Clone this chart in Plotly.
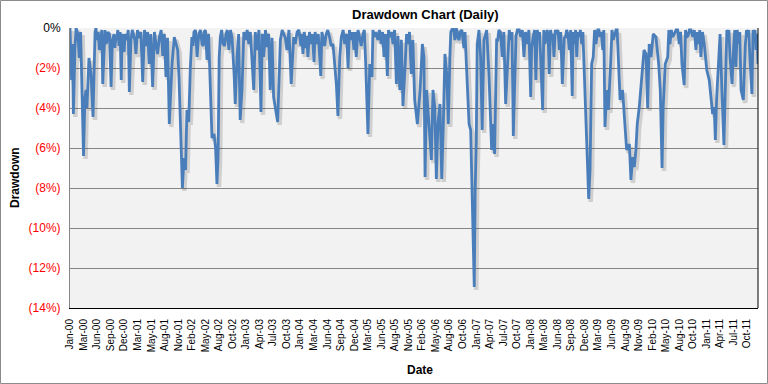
import plotly.graph_objects as go

# ---- data ----
# main readings: trading-day index and drawdown depth in percent
trading_day = [
    0, 7, 11, 15, 22, 27, 35, 41, 47, 53, 60, 66, 71, 75, 84, 93, 102, 111, 115, 120,
    130, 137, 145, 151, 159, 168, 182, 188, 195, 202, 208, 217, 227, 235, 244, 263, 270, 281, 292, 306,
    322, 337, 351, 366, 381, 396, 411, 425, 440, 452, 462, 477, 483, 492, 498, 505, 512, 518, 526, 533,
    540, 549, 563, 571, 585, 594, 607, 622, 629, 638, 645, 651, 656, 661, 666, 678, 691, 704, 718, 727,
    732, 740, 754, 762, 777, 792, 806, 814, 828, 846, 858, 873, 887, 902, 920, 932, 947, 961, 980, 991,
    1006, 1023, 1032, 1045, 1054, 1068, 1081, 1091, 1111, 1121, 1135, 1150, 1165, 1173, 1180, 1187, 1195, 1202, 1217, 1232,
    1244, 1258, 1268, 1283, 1298, 1310, 1320, 1328, 1338, 1347, 1364, 1379, 1391, 1406, 1416, 1431, 1446, 1461, 1475, 1485,
    1497, 1512, 1527, 1539, 1551, 1561, 1568, 1573, 1580, 1586, 1595, 1601, 1608, 1616, 1623, 1630, 1639, 1647, 1654, 1661,
    1669, 1676, 1683, 1691, 1701, 1710, 1719, 1728, 1745, 1756, 1768, 1775, 1782, 1787, 1791, 1795, 1800, 1804, 1812, 1819,
    1826, 1834, 1846, 1856, 1868, 1875, 1881, 1890, 1900, 1915, 1930, 1940, 1952, 1964, 1971, 1982, 1997, 2011, 2026, 2041,
    2045, 2052, 2064, 2075, 2085, 2094, 2104, 2114, 2123, 2134, 2144, 2156, 2168, 2181, 2190, 2200, 2212, 2225, 2234, 2245,
    2255, 2267, 2277, 2286, 2292, 2298, 2304, 2311, 2318, 2330, 2338, 2348, 2360, 2370, 2378, 2385, 2395, 2407, 2419, 2429,
    2437, 2448, 2459, 2466, 2478, 2485, 2493, 2500, 2507, 2513, 2522, 2533, 2543, 2552, 2559, 2566, 2574, 2584, 2596, 2608,
    2615, 2623, 2628, 2637, 2648, 2658, 2670, 2685, 2699, 2711, 2721, 2732, 2744, 2759, 2773, 2785, 2795, 2810, 2821, 2832,
    2840, 2847, 2854, 2859, 2865, 2874, 2880, 2888, 2897, 2906, 2914, 2924, 2933, 2940, 2950, 2962, 2973, 2983, 2992, 3002,
    3012, 3021, 3031, 3039, 3048,
]

drawdown_pct = [
    0, 2.6, 0.8, 4.3, 1.0, 0, 0.3, 1.5, 0.2, 2.5, 6.4, 3.5, 3.1, 4.0, 1.5, 2.3, 4.45, 0.2, 0, 0.6,
    1.1, 0.3, 2.8, 0.5, 0.8, 0.2, 2.95, 0.6, 0.3, 0.6, 0.4, 0.9, 2.6, 0.8, 0.3, 3.2, 0.6, 0.3, 1.3, 0.5,
    2.7, 0.9, 1.8, 2.95, 0.8, 0.45, 1.4, 2.45, 4.8, 1.8, 0.45, 1.1, 2.5, 5.5, 8.0, 6.5, 7.1, 4.1, 4.7, 2.0,
    0.45, 0.2, 1.45, 0.3, 0.8, 0.2, 1.6, 3.6, 5.5, 5.3, 6.0, 7.8, 6.5, 1.45, 0.45, 0.8, 0.3, 1.1, 0.5, 2.3,
    3.8, 1.45, 4.6, 3.1, 0.6, 0.8, 1.45, 3.1, 1.1, 4.2, 1.45, 0.95, 3.1, 3.45, 4.7, 0.6, 0.3, 1.1, 2.8, 0.45,
    0.2, 0.9, 1.3, 1.0, 1.45, 0.8, 1.7, 0.8, 2.4, 0.6, 0.3, 0.45, 0.8, 2.0, 2.8, 4.4, 1.45, 0.45, 0.8, 2.0,
    0.6, 1.1, 1.45, 0.45, 0.3, 1.8, 5.3, 1.8, 2.45, 0.45, 0.6, 0.8, 1.45, 2.4, 0.45, 0.8, 2.8, 3.1, 3.9, 1.8,
    0.8, 2.3, 3.6, 4.8, 3.1, 0.8, 1.45, 7.45, 3.1, 4.1, 6.1, 6.6, 3.1, 3.95, 7.55, 4.8, 3.8, 7.55, 4.8, 1.3,
    2.3, 4.8, 1.45, 0.1, 0.2, 0, 0.5, 0.2, 1.0, 1.8, 4.8, 5.1, 8.1, 11.45, 12.95, 8.1, 5.6, 0.8, 0.1, 1.45,
    5.1, 0.6, 0.1, 2.3, 6.1, 4.8, 6.3, 0.6, 0.1, 1.45, 3.8, 1.1, 0.6, 5.4, 1.45, 0.1, 0.45, 1.45, 0.8, 3.45,
    1.0, 0.45, 2.6, 0.45, 1.45, 4.1, 0.8, 0.1, 2.3, 0.45, 1.45, 0.3, 1.1, 2.8, 0.45, 0.1, 1.1, 3.4, 0.8, 1.45,
    0.45, 0.8, 1.8, 4.8, 6.8, 8.55, 7.1, 1.8, 1.45, 0.8, 0.1, 0.45, 1.1, 4.95, 3.1, 4.1, 1.8, 0.6, 0.1, 1.45,
    3.6, 3.1, 4.8, 6.1, 5.8, 7.6, 6.45, 6.95, 6.1, 4.8, 3.95, 2.3, 1.1, 1.3, 4.0, 0.8, 1.45, 0.3, 0.45, 1.8,
    3.1, 7.0, 3.95, 1.8, 1.45, 0.8, 0.45, 0.1, 0.8, 1.8, 2.85, 0.45, 0.1, 0.45, 1.1, 0.8, 1.45, 0.8, 2.1, 2.6,
    3.45, 4.3, 3.95, 5.6, 3.45, 1.45, 0.3, 3.1, 5.85, 1.8, 0.45, 1.45, 2.8, 0.95, 1.95, 0.8, 3.1, 3.6, 0.8, 0.45,
    1.45, 3.3, 0.45, 1.1, 1.8,
]

# finer readings of the dense band near the top (near-zero stretches)
band_day = [
    125, 141, 155, 163, 175, 199, 212, 222, 231, 240, 253, 258, 276, 287, 299, 314, 330, 344, 358, 374,
    388, 404, 418, 432,
    545, 556, 567, 578, 590, 600, 614,
    672, 685, 697, 711, 747, 770, 785, 799, 821, 837, 852, 866, 880, 895, 940, 954, 970, 998,
    1014, 1027, 1038, 1049, 1061, 1074, 1086, 1100, 1105, 1116, 1128, 1142, 1157, 1210, 1225, 1238, 1251, 1263, 1276, 1290,
    1304, 1342, 1355, 1371, 1385, 1398, 1411, 1424, 1438, 1453, 1468, 1491, 1504, 1519,
    1687, 1696, 1705, 1714, 1724, 1736, 1750,
    1895, 1907, 1922, 1946, 1958, 1976, 1990, 2004, 2018, 2033, 2058, 2070, 2080, 2099, 2109, 2118, 2129, 2139, 2150, 2162,
    2174, 2195, 2206, 2218, 2229, 2240, 2250, 2261, 2272,
    2324, 2334, 2343, 2354, 2365, 2401, 2413, 2424,
    2653, 2664, 2677, 2692, 2705, 2727, 2738, 2751, 2766, 2779, 2790, 2802,
    2910, 2919, 2945, 2956, 2967, 2997, 3007, 3026, 3035, 3044,
]

band_pct = [
    0.2, 0.1, 0.1, 0.7, 0.3, 1.0, 0.1, 0.2, 0.3, 1.2, 0.6, 0.1, 0.1, 0.6, 0.1, 0.2, 0.1, 0.2, 0.3, 0.2,
    1.3, 0.1, 0.3, 0.5,
    0.9, 0.1, 0.8, 0.1, 0.9, 0.1, 0.3,
    0.1, 0.9, 0.1, 0.1, 0.3, 0.2, 0.1, 0.2, 0.2, 0.1, 0.3, 0.1, 0.3, 0.5, 0.1, 0.5, 0.1, 0.8,
    0.1, 0.3, 0.2, 0.4, 0.2, 0.3, 0.2, 0.3, 1.2, 0.2, 0.9, 0.1, 0.9, 0.1, 0.3, 0.1, 0.2, 0.2, 0.1, 0.9,
    0.1, 0.1, 0.2, 0.1, 0.2, 0.3, 0.1, 0.2, 0.1, 0.4, 0.6, 0.3, 0.2, 0.6,
    0.2, 0.0, 0.6, 0.1, 0.6, 0.1, 0.2,
    0.6, 0.2, 0.2, 0.1, 0.2, 0.4, 0.1, 0.1, 0.2, 0.1, 0.1, 0.1, 0.2, 0.1, 0.5, 0.3, 0.1, 0.3, 0.1, 0.1,
    0.2, 0.5, 0.3, 0.1, 0.2, 0.1, 0.2, 0.1, 0.2,
    0.1, 0.4, 0.1, 0.2, 0.1, 0.1, 0.4, 0.1,
    0.1, 0.1, 0.3, 0.1, 0.2, 0.1, 0.4, 0.1, 0.1, 0.2, 0.1, 0.2,
    0.1, 0.1, 0.1, 0.1, 0.2, 0.1, 0.1, 0.1, 0.1, 0.3,
]

tick_labels = [
    "Jan-00", "Mar-00", "Jun-00", "Sep-00", "Dec-00", "Mar-01", "May-01", "Aug-01", "Nov-01", "Feb-02",
    "May-02", "Aug-02", "Oct-02", "Jan-03", "Apr-03", "Jul-03", "Oct-03", "Jan-04", "Mar-04", "Jun-04",
    "Sep-04", "Dec-04", "Mar-05", "Jun-05", "Aug-05", "Nov-05", "Feb-06", "May-06", "Aug-06", "Oct-06",
    "Jan-07", "Apr-07", "Jul-07", "Oct-07", "Jan-08", "Mar-08", "Jun-08", "Sep-08", "Dec-08", "Mar-09",
    "Jun-09", "Aug-09", "Nov-09", "Feb-10", "May-10", "Aug-10", "Oct-10", "Jan-11", "Apr-11", "Jul-11",
    "Oct-11",
]
tick_step_days = 60
y_tick_values = [0, -2, -4, -6, -8, -10, -12, -14]

# merge readings into one time-ordered series
series = sorted(zip(trading_day + band_day, drawdown_pct + band_pct))
days = [d for d, _ in series]
drawdown = [-p for _, p in series]

# ---- figure ----
W, H = 768, 384
ML, MR, MT, MB = 70, 10, 28, 76
plot_w = W - ML - MR
plot_h = H - MT - MB

x_max = days[-1]
y_min, y_max = -14, 0

# soft shadow offset (pixels) converted through the axis scales
sx_px, sy_px = 2.0, 3.0
dx = sx_px * x_max / plot_w
dy = sy_px * (y_max - y_min) / plot_h

font_family = "Liberation Sans, Arial, sans-serif"

fig = go.Figure()
fig.add_trace(go.Scatter(
    x=days, y=drawdown, mode="lines",
    line=dict(color="rgba(0,0,0,0.14)", width=4.5),
    xaxis="x", yaxis="y", hoverinfo="skip", showlegend=False,
))
fig.add_trace(go.Scatter(
    x=days, y=drawdown, mode="lines",
    line=dict(color="#4a7ebb", width=2.8),
    xaxis="x2", yaxis="y2", showlegend=False,
))


def ytext(v):
    if v == 0:
        return "0%"
    return "<span style='color:#ff0000'>(%d%%)</span>" % abs(v)


fig.update_layout(
    width=W, height=H,
    margin=dict(l=ML, r=MR, t=MT, b=MB, pad=0),
    paper_bgcolor="white",
    plot_bgcolor="#f2f2f2",
    font=dict(family=font_family, color="black"),
    showlegend=False,
    xaxis=dict(range=[-dx, x_max - dx], visible=False, fixedrange=True),
    yaxis=dict(range=[y_min + dy, y_max + dy], visible=False, fixedrange=True),
    xaxis2=dict(
        overlaying="x", anchor="y2", range=[0, x_max],
        tickmode="array",
        tickvals=[i * tick_step_days for i in range(len(tick_labels))],
        ticktext=tick_labels,
        tickangle=-90,
        tickfont=dict(size=10, color="black"),
        ticks="outside", ticklen=6, tickcolor="rgba(0,0,0,0)",
        showgrid=False, zeroline=False,
        showline=True, linecolor="black", linewidth=1,
    ),
    yaxis2=dict(
        overlaying="y", anchor="x2", range=[y_min, y_max],
        tickmode="array",
        tickvals=y_tick_values,
        ticktext=[ytext(v) for v in y_tick_values],
        tickfont=dict(size=12, color="black"),
        ticks="outside", ticklen=6, tickcolor="rgba(0,0,0,0)",
        showgrid=True, gridcolor="#868686", gridwidth=1,
        zeroline=False,
        showline=True, linecolor="#868686", linewidth=1,
    ),
    shapes=[
        dict(type="line", xref="paper", yref="paper", x0=1, x1=1, y0=0, y1=1,
             line=dict(color="black", width=1)),
        dict(type="rect", xref="paper", yref="paper",
             x0=(0.5 - ML) / plot_w, x1=(W - 0.5 - ML) / plot_w,
             y0=-(H - 0.5 - MT - plot_h) / plot_h, y1=1 + (MT - 0.5) / plot_h,
             line=dict(color="#8c8c8c", width=1)),
    ],
    annotations=[
        dict(text="<b>Drawdown Chart (Daily)</b>", xref="paper", yref="paper",
             x=(425 - ML) / plot_w, y=1 + (MT - 15) / plot_h,
             xanchor="center", yanchor="middle", showarrow=False,
             font=dict(size=13, family=font_family, color="black")),
        dict(text="<b>Drawdown</b>", xref="paper", yref="paper",
             x=(15 - ML) / plot_w, y=(MT + plot_h - 178) / plot_h,
             xanchor="center", yanchor="middle", showarrow=False, textangle=-90,
             font=dict(size=12, family=font_family, color="black")),
        dict(text="<b>Date</b>", xref="paper", yref="paper",
             x=(420 - ML) / plot_w, y=(MT + plot_h - 370) / plot_h,
             xanchor="center", yanchor="middle", showarrow=False,
             font=dict(size=12, family=font_family, color="black")),
    ],
)

fig.write_html(
    "out.html",
    config={"displayModeBar": False, "staticPlot": True},
    post_script="document.body.style.margin='0';document.body.style.overflow='hidden';",
)
